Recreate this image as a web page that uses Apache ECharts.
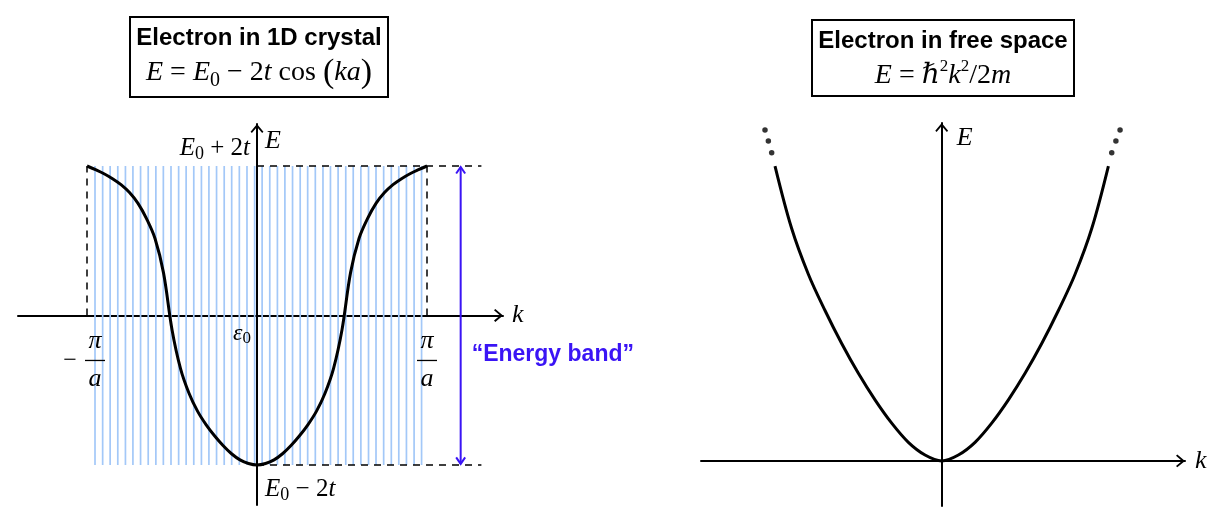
<!DOCTYPE html>
<html><head><meta charset="utf-8">
<script src="https://cdn.jsdelivr.net/npm/echarts@6/dist/echarts.min.js"></script>
<style>html,body{margin:0;padding:0;background:#fff}#c{width:1220px;height:516px}</style>
</head><body><div id="c"></div>
<script>
// ---------- data (k in units of pi/a, E in units of 2t relative to E0) ----------
const bandStatesK = [-0.953,-0.908,-0.864,-0.819,-0.774,-0.730,-0.685,-0.640,-0.595,-0.551,-0.506,-0.461,-0.417,-0.372,-0.327,-0.283,-0.238,-0.193,-0.149,-0.104,-0.059,-0.014,0.030,0.075,0.120,0.164,0.209,0.254,0.298,0.343,0.388,0.432,0.477,0.522,0.566,0.611,0.656,0.700,0.745,0.790,0.834,0.879,0.924,0.968];
const crystalK = [-1.00,-0.95,-0.90,-0.85,-0.80,-0.75,-0.70,-0.65,-0.60,-0.55,-0.50,-0.45,-0.40,-0.35,-0.30,-0.25,-0.20,-0.15,-0.10,-0.05,0.00,0.05,0.10,0.15,0.20,0.25,0.30,0.35,0.40,0.45,0.50,0.55,0.60,0.65,0.70,0.75,0.80,0.85,0.90,0.95,1.00];
const crystalE = [1.000,0.975,0.948,0.915,0.875,0.822,0.750,0.648,0.515,0.285,-0.095,-0.355,-0.520,-0.640,-0.730,-0.805,-0.870,-0.925,-0.966,-0.990,-1.000,-0.990,-0.966,-0.925,-0.870,-0.805,-0.730,-0.640,-0.520,-0.355,-0.095,0.285,0.515,0.648,0.750,0.822,0.875,0.915,0.948,0.975,1.000];
const freeK = [-1.00,-0.90,-0.80,-0.70,-0.60,-0.50,-0.40,-0.30,-0.20,-0.10,0.00,0.10,0.20,0.30,0.40,0.50,0.60,0.70,0.80,0.90,1.00];
const freeE = [1.000,0.788,0.633,0.510,0.398,0.297,0.207,0.128,0.063,0.020,0.000,0.020,0.063,0.128,0.207,0.297,0.398,0.510,0.633,0.788,1.000];
const dotsK = [-1.06,-1.04,-1.02,1.02,1.045,1.07];
const dotsE = [1.122,1.085,1.045,1.045,1.085,1.122];
const bandTop = 1, bandBottom = -1, zoneEdge = 1;
const dashEndK = 1.32, bandArrowK = 1.198, bandLabelE = -0.264;
const titles = ['Electron in 1D crystal', 'Electron in free space'];
const axisNames = { k: 'k', E: 'E' };

// ---------- styles ----------
const SERIF = '"Liberation Serif","DejaVu Serif",serif';
const SANS = '"Liberation Sans",Arial,Helvetica,sans-serif';
const INK = '#000';
const BLUE = '#3a14f5';
const CHEVRON = 'path://M10,0L20,12L18,14L10,4.6L2,14L0,12Z';

function mathRich(size, lh) {
  return {
    i: {fontFamily: SERIF, fontStyle: 'italic', fontSize: size, color: INK, lineHeight: lh},
    r: {fontFamily: SERIF, fontSize: size, color: INK, lineHeight: lh},
    s: {fontFamily: SERIF, fontSize: Math.round(size * 0.7), color: INK, lineHeight: Math.round(size * 0.6), verticalAlign: 'bottom'},
    u: {fontFamily: SERIF, fontSize: Math.round(size * 0.62), color: INK, lineHeight: Math.round(lh * 0.75), verticalAlign: 'top'},
    p: {fontFamily: SERIF, fontSize: Math.round(size * 1.2), color: INK, lineHeight: lh}
  };
}

function axisCommon(name, nameGap, nameStyle) {
  return {
    type: 'value',
    axisLine: {show: true, onZero: true, lineStyle: {color: INK, width: 2}, symbol: ['none', CHEVRON], symbolSize: [13, 9], symbolOffset: [0, -4.5]},
    axisTick: {show: false}, axisLabel: {show: false}, splitLine: {show: false},
    name: name, nameLocation: 'end', nameGap: nameGap,
    nameTextStyle: Object.assign({fontFamily: SERIF, fontStyle: 'italic', fontSize: 26, color: INK}, nameStyle)
  };
}

const labelRich = mathRich(25, 30);

function fraction(p, neg) {
  const cx = neg ? p[0] + 8 : p[0];
  const out = [
    {type: 'text', x: cx, y: p[1] + 26, style: {text: 'π', fontFamily: SERIF, fontStyle: 'italic', fontSize: 26, fill: INK, align: 'center', verticalAlign: 'middle'}},
    {type: 'line', shape: {x1: cx - 10, y1: p[1] + 45, x2: cx + 10, y2: p[1] + 45}, style: {stroke: INK, lineWidth: 1.3}},
    {type: 'text', x: cx, y: p[1] + 64, style: {text: 'a', fontFamily: SERIF, fontStyle: 'italic', fontSize: 26, fill: INK, align: 'center', verticalAlign: 'middle'}}
  ];
  if (neg) out.push({type: 'text', x: p[0] - 17, y: p[1] + 45, style: {text: '−', fontFamily: SERIF, fontSize: 24, fill: INK, align: 'center', verticalAlign: 'middle'}});
  return out;
}

const option = {
  animation: false,
  backgroundColor: '#fff',
  title: [
    {text: titles[0], subtext: '{i|E}{r| = }{i|E}{s|0}{r| − 2}{i|t}{r| cos }{p|(}{i|ka}{p|)}',
     left: 252, top: 17, textAlign: 'center', padding: [8, 7, 6, 7], itemGap: 4,
     borderColor: INK, borderWidth: 2,
     textStyle: {fontFamily: SANS, fontWeight: 'bold', fontSize: 24, color: INK, lineHeight: 26},
     subtextStyle: {rich: mathRich(28, 36)}},
    {text: titles[1], subtext: '{i|E}{r| = }{i|ℏ}{u|2}{i|k}{u|2}{r|/2}{i|m}',
     left: 936, top: 20, textAlign: 'center', padding: [8, 7, 6, 7], itemGap: 4,
     borderColor: INK, borderWidth: 2,
     textStyle: {fontFamily: SANS, fontWeight: 'bold', fontSize: 24, color: INK, lineHeight: 26},
     subtextStyle: {rich: mathRich(28, 36)}}
  ],
  grid: [
    {left: 18, top: 124, width: 485, height: 381, containLabel: false, outerBoundsMode: 'none'},
    {left: 701, top: 123, width: 484, height: 383, containLabel: false, outerBoundsMode: 'none'}
  ],
  xAxis: [
    Object.assign(axisCommon(axisNames.k, 9, {verticalAlign: 'middle'}), {gridIndex: 0, min: -1.406, max: 1.447}),
    Object.assign(axisCommon(axisNames.k, 10, {verticalAlign: 'middle'}), {gridIndex: 1, min: -1.444, max: 1.4595})
  ],
  yAxis: [
    Object.assign(axisCommon(axisNames.E, -17, {align: 'left', verticalAlign: 'middle', padding: [0, 0, 0, 8]}), {gridIndex: 0, min: -1.268, max: 1.281}),
    Object.assign(axisCommon(axisNames.E, -15, {align: 'left', verticalAlign: 'middle', padding: [0, 0, 0, 15]}), {gridIndex: 1, min: -0.153, max: 1.146})
  ],
  series: [
    { // allowed k-states inside the band
      type: 'custom', xAxisIndex: 0, yAxisIndex: 0, z: 1, silent: true,
      data: bandStatesK.map(k => [k, 0]),
      renderItem(params, api) {
        const k = api.value(0);
        const a = api.coord([k, bandBottom]), b = api.coord([k, bandTop]);
        return {type: 'line', shape: {x1: a[0], y1: a[1], x2: b[0], y2: b[1]}, style: {stroke: '#a3c8f8', lineWidth: 1.7}};
      }
    },
    { // dispersion in crystal
      type: 'line', xAxisIndex: 0, yAxisIndex: 0, z: 4, silent: true,
      data: crystalK.map((k, i) => [k, crystalE[i]]),
      symbol: 'none', smooth: 0.35,
      lineStyle: {color: INK, width: 3},
      markLine: {
        silent: true, symbol: ['none', 'none'], label: {show: false},
        lineStyle: {color: INK, width: 1.5, type: [7, 6]},
        data: [
          [{coord: [-zoneEdge, 0]}, {coord: [-zoneEdge, bandTop]}],
          [{coord: [zoneEdge, 0]}, {coord: [zoneEdge, bandTop]}],
          [{coord: [0, bandTop]}, {coord: [dashEndK, bandTop]}],
          [{coord: [0, bandBottom]}, {coord: [dashEndK, bandBottom]}]
        ]
      }
    },
    { // energy band arrow + label
      type: 'custom', xAxisIndex: 0, yAxisIndex: 0, z: 5, silent: true,
      data: [[bandArrowK, bandLabelE]],
      renderItem(params, api) {
        const k = api.value(0);
        const t = api.coord([k, bandTop]), b = api.coord([k, bandBottom]), l = api.coord([k, api.value(1)]);
        const x = t[0];
        return {type: 'group', children: [
          {type: 'line', shape: {x1: x, y1: t[1] + 1, x2: x, y2: b[1] - 1}, style: {stroke: BLUE, lineWidth: 2}},
          {type: 'polyline', shape: {points: [[x - 4.5, t[1] + 7.5], [x, t[1] + 1], [x + 4.5, t[1] + 7.5]]}, style: {stroke: BLUE, lineWidth: 2, fill: null}},
          {type: 'polyline', shape: {points: [[x - 4.5, b[1] - 7.5], [x, b[1] - 1], [x + 4.5, b[1] - 7.5]]}, style: {stroke: BLUE, lineWidth: 2, fill: null}},
          {type: 'text', x: x + 11, y: l[1], style: {text: '“Energy band”', fontFamily: SANS, fontWeight: 'bold', fontSize: 23, fill: BLUE, align: 'left', verticalAlign: 'middle'}}
        ]};
      }
    },
    { // math labels of the crystal panel
      type: 'custom', xAxisIndex: 0, yAxisIndex: 0, z: 6, silent: true,
      data: [[0, 0]],
      renderItem(params, api) {
        const o = api.coord([0, 0]);
        const top = api.coord([0, bandTop]);
        const bot = api.coord([0, bandBottom]);
        const L = api.coord([-zoneEdge, 0]);
        const R = api.coord([zoneEdge, 0]);
        return {type: 'group', children: [
          {type: 'text', x: top[0] - 7, y: top[1] - 18, style: {text: '{i|E}{s|0}{r| + 2}{i|t}', rich: labelRich, align: 'right', verticalAlign: 'middle'}},
          {type: 'text', x: bot[0] + 8, y: bot[1] + 24, style: {text: '{i|E}{s|0}{r| − 2}{i|t}', rich: labelRich, align: 'left', verticalAlign: 'middle'}},
          {type: 'text', x: o[0] - 6, y: o[1] + 18, style: {text: '{i|ε}{s|0}', rich: mathRich(24, 28), align: 'right', verticalAlign: 'middle'}}
        ].concat(fraction(L, true), fraction(R, false))};
      }
    },
    { // free electron parabola
      type: 'line', xAxisIndex: 1, yAxisIndex: 1, z: 4, silent: true,
      data: freeK.map((k, i) => [k, freeE[i]]),
      symbol: 'none', smooth: 0.35,
      lineStyle: {color: INK, width: 3}
    },
    { // continuation dots
      type: 'scatter', xAxisIndex: 1, yAxisIndex: 1, z: 4, silent: true,
      data: dotsK.map((k, i) => [k, dotsE[i]]),
      symbol: 'circle', symbolSize: 5.5, itemStyle: {color: INK}
    }
  ]
};

const chart = echarts.init(document.getElementById('c'), null, {renderer: 'canvas'});
chart.setOption(option);
</script>
</body></html>
